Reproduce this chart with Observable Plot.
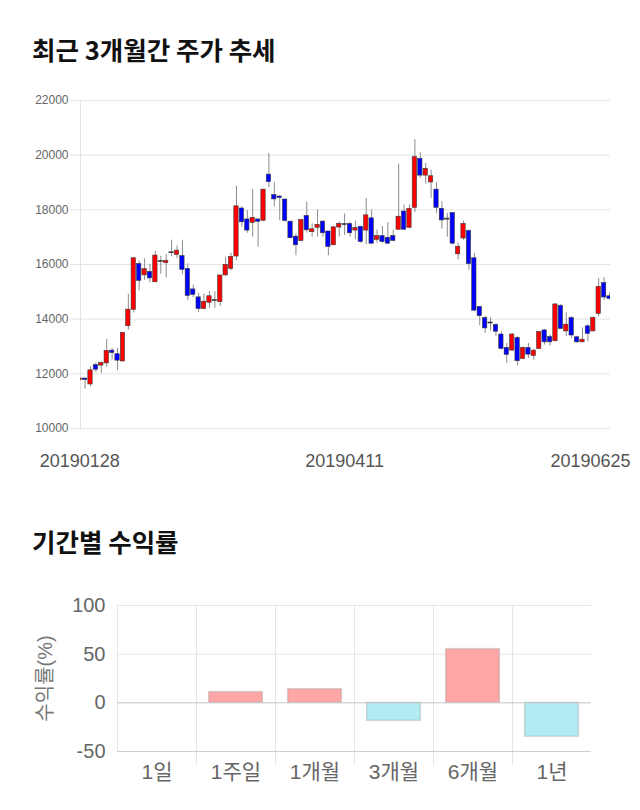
<!DOCTYPE html>
<html><head><meta charset="utf-8">
<script src="https://cdn.jsdelivr.net/npm/d3@7"></script>
<script src="https://cdn.jsdelivr.net/npm/@observablehq/plot@0.6"></script>
<style>
body{margin:0;background:#fff;font-family:"Liberation Sans","Noto Sans CJK KR",sans-serif;}
#wrap{width:640px;}
.title{font-family:"Noto Sans CJK KR",sans-serif;font-weight:700;font-size:25.5px;color:#111;padding-left:32px;line-height:26px;box-sizing:border-box;white-space:nowrap;}
#t1{height:80px;padding-top:36px;}
#t2{height:95px;padding-top:48px;}
svg{display:block;}
</style></head><body>
<div id="wrap">
<div class="title" id="t1">최근 3개월간 주가 추세</div>
<div id="c1"></div>
<div class="title" id="t2">기간별 수익률</div>
<div id="c2"></div>
</div>
<script>
// ---- candle chart data ----
const dateLabels = ["20190128", "20190411", "20190625"];
const dateLabelIndex = [0, 49, 98];
const priceTicks = [10000, 12000, 14000, 16000, 18000, 20000, 22000];
const openPrices = [
11790,11810,11630,12300,12320,12400,12830,12700,12470,13760,
14360,16000,15620,15710,15370,16110,16070,16430,16370,16290,
15820,15070,14780,14390,14620,14680,14640,15620,15860,16310,
18030,17630,17540,17630,17620,19270,18520,18470,18360,17550,
17000,16880,17760,17200,17360,17550,17190,16720,17370,17460,
17460,17260,17360,17260,17670,16920,17020,16960,17020,17290,
17920,17360,18090,19850,19270,19020,18720,18020,17660,17870,
16390,16970,17210,16210,14430,14020,13860,13770,13420,12930,
12870,13290,12560,12930,12670,12930,13570,13330,13210,14470,
13570,14020,13320,13170,13720,13570,14210,15300,14820];
const closePrices = [
11810,11790,12110,12170,12380,12820,12780,12500,13480,14330,
16210,15420,15810,15510,16310,16110,16110,16430,16490,15820,
14870,14910,14390,14620,14820,14680,15580,15970,16260,18110,
17560,17260,17690,17580,18720,19030,18400,18450,17610,16980,
16720,17610,17270,17270,17430,17160,16660,17340,17470,17460,
17160,17310,16840,17780,16780,17020,16840,16780,16880,17730,
17290,18020,19910,19270,19480,19210,18090,17630,17660,16780,
16630,17470,16030,14330,14130,13680,13860,13560,12930,12710,
13420,12480,12930,12720,12830,13510,13170,13170,14520,13660,
13780,13420,13170,13230,13480,14020,15160,14810,14760];
const highPrices = [
11830,11830,12260,12400,12440,13260,12930,12930,13480,14910,
16230,16130,16210,16010,16480,16300,16370,16890,16680,16890,
16020,15250,14950,14920,15010,15000,15580,16260,16410,18870,
18110,17970,18750,17650,18740,20060,19010,18500,18370,17560,
17120,17620,18280,17490,18000,17610,17200,17390,17550,17850,
17550,17590,17400,18420,17990,17260,17390,17530,17260,19670,
18180,18180,20570,20090,19700,19450,18990,18300,17870,17880,
16780,17590,17270,16400,14470,14110,14060,13840,13540,13110,
13480,13360,12990,13110,12900,13540,13620,13420,14570,14540,
14230,14090,13380,13680,13820,14090,15480,15520,14950];
const lowPrices = [
11780,11440,11530,12040,12020,12240,12500,12120,12440,13600,
14230,15030,15420,15330,15330,15640,15520,16290,16210,15620,
14680,14790,14240,14340,14400,14400,14460,15550,15770,16140,
17360,17140,17000,16630,17560,18810,18100,17600,17550,16940,
16320,16860,17150,17000,17000,17000,16320,16700,17000,17060,
17000,16910,16780,16720,16720,16780,16780,16720,16840,17260,
17260,17320,17900,19150,18940,18420,17870,17290,17000,16720,
16170,16880,15790,14270,13760,13480,13560,13350,12870,12380,
12810,12290,12520,12560,12500,12890,13050,13010,13170,13620,
13360,13290,13110,13140,13170,13540,14090,14690,14700];

// ---- returns chart data ----
const periods = ["1일", "1주일", "1개월", "3개월", "6개월", "1년"];
const returns = [0, 11, 14, -18.5, 55.2, -34.8];
const returnTicks = [-50, 0, 50, 100];

const font = '"Liberation Sans","Noto Sans CJK KR",sans-serif';

const candles = openPrices.map((o, i) => ({
  i, open: o, high: highPrices[i], low: lowPrices[i], close: closePrices[i],
  dir: closePrices[i] > o ? "up" : closePrices[i] < o ? "down" : "flat"
}));
const labelRows = dateLabels.map((t, k) => ({i: dateLabelIndex[k], label: t}));
const lastIdx = dateLabels.length - 1;

const chart1 = Plot.plot({
  width: 640, height: 400,
  marginTop: 20, marginBottom: 52, marginLeft: 80, marginRight: 30,
  style: {fontFamily: font, background: "#fff", overflow: "visible"},
  x: {type: "linear", domain: [0, openPrices.length - 1], range: [79.2, 609], axis: null},
  y: {domain: [10000, 22000]},
  color: {domain: ["up", "down", "flat"], range: ["#ff0000", "#0000ff", "#333333"]},
  marks: [
    Plot.gridY(priceTicks, {stroke: "#e4e4e4", strokeOpacity: 1, insetLeft: -10}),
    Plot.frame({anchor: "left", stroke: "#e4e4e4"}),
    Plot.axisY(priceTicks, {tickSize: 0, tickPadding: 12, fontSize: 12, fill: "#666", tickFormat: d => String(d), label: null}),
    Plot.ruleX(candles, {x: "i", y1: "low", y2: "high", stroke: "#8c8c8c", strokeWidth: 1, clip: true}),
    Plot.rect(candles, {
      x1: d => d.i - 0.4, x2: d => d.i + 0.4, y1: "open", y2: "close",
      fill: "dir", stroke: "#3a3a3a", strokeWidth: 0.6,
      insetTop: -0.5, insetBottom: -0.5, clip: true
    }),
    Plot.text(labelRows.slice(0, lastIdx), {x: "i", text: "label", frameAnchor: "bottom", dy: 38, fontSize: 18, fill: "#555"}),
    Plot.text(labelRows.slice(lastIdx), {x: "i", text: "label", frameAnchor: "bottom", dy: 38, dx: 21, textAnchor: "end", fontSize: 18, fill: "#555"})
  ]
});
document.getElementById("c1").appendChild(chart1);

const bars = periods.map((p, i) => ({i, period: p, value: returns[i], sign: returns[i] >= 0 ? "pos" : "neg"}));

const chart2 = Plot.plot({
  width: 640, height: 235,
  marginTop: 30, marginBottom: 59, marginLeft: 117, marginRight: 49,
  style: {fontFamily: font, background: "#fff", overflow: "visible"},
  x: {type: "linear", domain: [0, periods.length], axis: null},
  y: {domain: [-50, 100]},
  color: {domain: ["pos", "neg"], range: ["#ffa6a6", "#b2ebf2"]},
  marks: [
    Plot.gridY([50, 100], {stroke: "#e6e6e6", strokeOpacity: 1}),
    Plot.gridX([0], {stroke: "#e6e6e6", strokeOpacity: 1}),
    Plot.gridX(d3.range(1, periods.length), {stroke: "#e6e6e6", strokeOpacity: 1, insetBottom: -14}),
    Plot.rectY(bars, {x1: d => d.i + 0.16, x2: d => d.i + 0.84, y1: 0, y2: "value", fill: "sign", stroke: "#999", strokeOpacity: 0.35, strokeWidth: 1.5}),
    Plot.ruleY([0], {stroke: "#c4c4c4"}),
    Plot.ruleY([-50], {stroke: "#cfcfcf"}),
    Plot.axisY(returnTicks, {tickSize: 0, tickPadding: 12, fontSize: 20, fill: "#666", tickFormat: d => String(d), label: null}),
    Plot.text(bars, {x: d => d.i + 0.5, text: "period", frameAnchor: "bottom", dy: 27, fontSize: 21, fill: "#666"}),
    Plot.text(["수익률(%)"], {frameAnchor: "left", rotate: -90, dx: -72, textAnchor: "middle", fontSize: 20, fill: "#777"})
  ]
});
document.getElementById("c2").appendChild(chart2);
</script>
</body></html>
